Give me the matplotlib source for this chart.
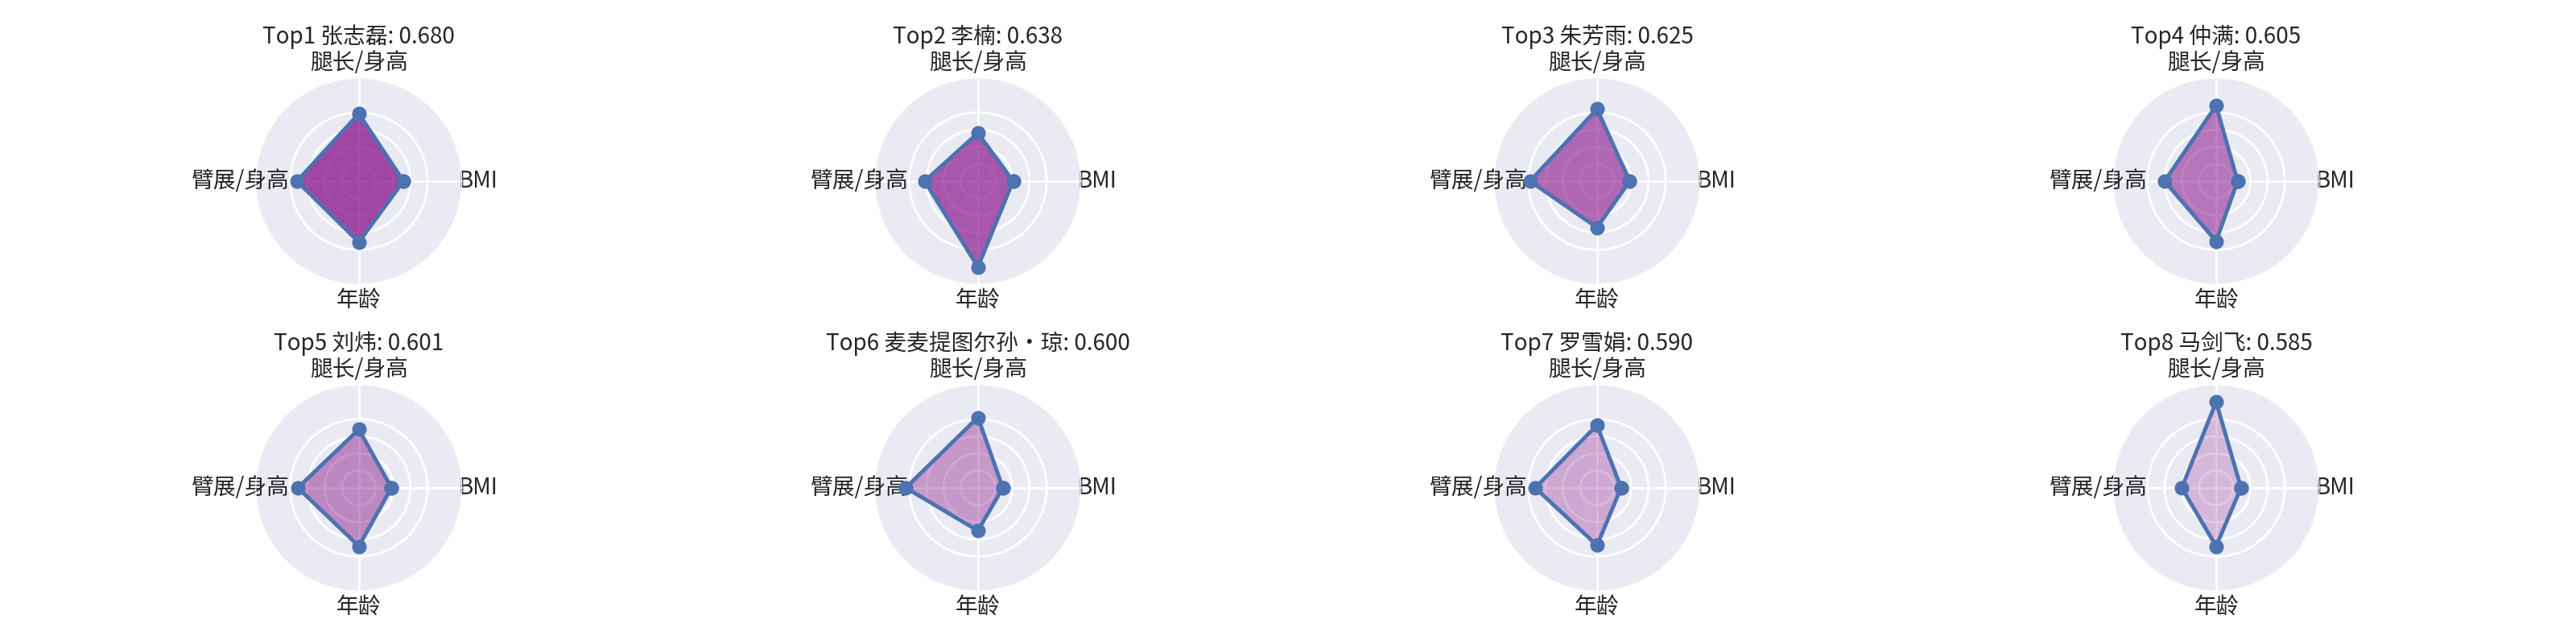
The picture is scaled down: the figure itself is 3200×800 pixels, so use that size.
import matplotlib
matplotlib.use("Agg")
import matplotlib.pyplot as plt
import numpy as np
import seaborn as sns


# Data

categories = ["BMI", "腿长/身高", "臂展/身高", "年龄"]
names = ["张志磊", "李楠", "朱芳雨", "仲满", "刘炜", "麦麦提图尔孙·琼", "罗雪娟", "马剑飞"]
scores = [0.680, 0.638, 0.625, 0.605, 0.601, 0.600, 0.590, 0.585]

# normalised feature values, one list per feature, in the order of names
bmi = [0.52, 0.41, 0.38, 0.25, 0.38, 0.29, 0.28, 0.29]
leg_ratio = [0.785, 0.56, 0.84, 0.88, 0.68, 0.82, 0.73, 1.00]
arm_ratio = [0.72, 0.62, 0.78, 0.60, 0.71, 0.84, 0.72, 0.40]
age = [0.71, 1.00, 0.54, 0.70, 0.68, 0.50, 0.67, 0.68]


# Style

sns.set_style("darkgrid")
plt.rcParams["font.family"] = ["Noto Sans CJK SC", "DejaVu Sans"]
plt.rcParams["axes.unicode_minus"] = False
plt.rcParams["grid.linewidth"] = 2

LINE_COLOR = "#4C72B0"
FILL_COLOR = "purple"


# Figure

angles = np.linspace(0, 2 * np.pi, len(categories), endpoint=False)
closed_angles = np.concatenate([angles, angles[:1]])

fig, axes = plt.subplots(2, 4, figsize=(32, 8), dpi=100, subplot_kw={"projection": "polar"})
fig.subplots_adjust(left=0.0456, right=0.954, top=0.87875, bottom=0.0825, wspace=0.2825, hspace=0.488)

for i, ax in enumerate(axes.flat):
    values = [bmi[i], leg_ratio[i], arm_ratio[i], age[i]]
    values = values + values[:1]

    ax.fill(closed_angles, values, color=FILL_COLOR, alpha=0.7 - 0.07 * i)
    ax.plot(closed_angles, values, "o-", color=LINE_COLOR, linewidth=3.5, markersize=12)

    ax.set_thetagrids(np.degrees(angles), categories, fontsize=20)
    ax.tick_params(axis="x", pad=3.5)
    ax.set_ylim(0, 1.2)
    ax.set_rgrids([0.2, 0.4, 0.6, 0.8])
    ax.set_yticklabels([])
    ax.set_title(f"Top{i + 1} {names[i]}: {scores[i]:.3f}", fontsize=20)

plt.savefig("out.png")
